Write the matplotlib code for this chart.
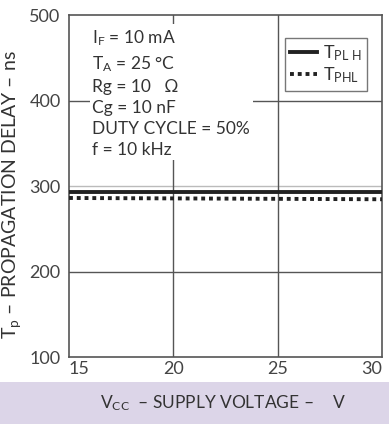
import matplotlib
matplotlib.use("Agg")
import matplotlib.pyplot as plt
from matplotlib.patches import Rectangle

plt.rcParams['font.family'] = ['Lato', 'DejaVu Sans']
plt.rcParams['mathtext.fontset'] = 'custom'
plt.rcParams['mathtext.rm'] = 'Lato'
plt.rcParams['mathtext.it'] = 'Lato'

vcc = [15, 20, 25, 30]
tplh = [293, 293, 293, 293]
tphl = [286, 285.5, 285, 284.5]
xticks = [15, 20, 25, 30]
yticks = [100, 200, 300, 400, 500]
conditions = ["I$_\\mathregular{F}$ = 10 mA",
              "T$_\\mathregular{A}$ = 25 °C",
              "Rg = 10   Ω",
              "Cg = 10 nF",
              "DUTY CYCLE = 50%",
              "f = 10 kHz"]

fig = plt.figure(figsize=(3.89, 4.24), dpi=100)
fig.patches.append(Rectangle((0, 0), 1, 0.099, transform=fig.transFigure,
                             facecolor='#dcd5e8', edgecolor='none', zorder=0))
ax = fig.add_axes([0.1774, 0.158, 0.8046, 0.8066])
ax.set_xlim(15, 30)
ax.set_ylim(100, 500)
ax.set_xticks(xticks)
ax.set_yticks(yticks)
for y in [200, 400]:
    ax.axhline(y, color='#555555', lw=1.0, zorder=1)
ax.axhline(300, color='#bbbbbb', lw=1.0, zorder=1)
for x in [20, 25]:
    ax.axvline(x, color='#555555', lw=1.0, zorder=1)
l1, = ax.plot(vcc, tplh, color='#222222', lw=2.8, zorder=3, label='T$_\\mathregular{PL\\ H}$')
l2, = ax.plot(vcc, tphl, color='#222222', lw=2.8, ls=(0, (1, 1)), zorder=3,
              label='T$_\\mathregular{PHL}$')
for s in ax.spines.values():
    s.set_color('#555555')
    s.set_linewidth(1.2)
ax.tick_params(length=0, labelsize=13, colors='#444444', pad=6)
ax.tick_params(axis='x', pad=3)
xl = ax.get_xticklabels()
xl[0].set_ha('left')
xl[-1].set_ha('right')

txt = "\n".join(conditions)
ax.text(0.075, 0.96, txt, transform=ax.transAxes, ha='left', va='top',
        fontsize=12.5, color='#333333', linespacing=1.38, zorder=4,
        bbox=dict(boxstyle='square,pad=0.15', facecolor='white', edgecolor='none'))

leg = ax.legend(handles=[l1, l2], loc='upper right', bbox_to_anchor=(0.98, 0.96),
                fontsize=13, frameon=True, fancybox=False, handlelength=1.5,
                handletextpad=0.3, borderpad=0.3, labelspacing=0.15,
                labelcolor='#333333')
leg.get_frame().set_edgecolor('#555555')
leg.get_frame().set_linewidth(1.0)

fig.text(0.03, 0.54, "T$_\\mathregular{p}$ – PROPAGATION DELAY – ns", rotation=90,
         ha='center', va='center', fontsize=14, color='#333333')
fig.text(100 / 389, 0.05, "V$_\\mathregular{CC}$  – SUPPLY VOLTAGE –",
         ha='left', va='center', fontsize=12.5, color='#333333')
fig.text(339 / 389, 0.05, "V", ha='center', va='center', fontsize=12.5, color='#333333')

fig.savefig("out.png", dpi=100)
